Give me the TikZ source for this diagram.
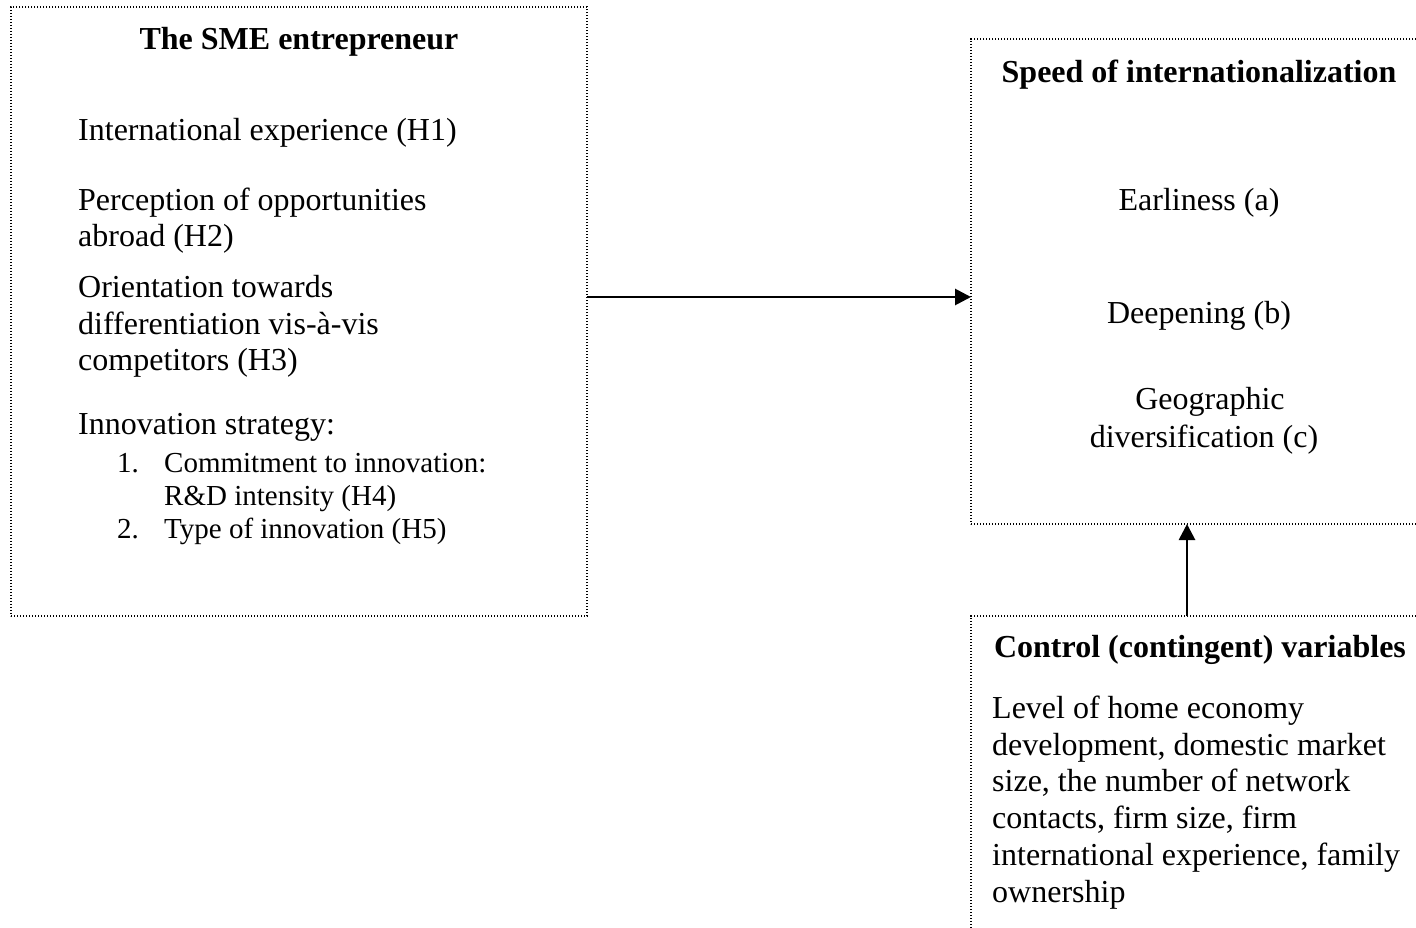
\documentclass[tikz,border=0pt]{standalone}
\usepackage{fontspec}
\setmainfont{Liberation Serif}
\usetikzlibrary{arrows.meta}
\begin{document}
\begin{tikzpicture}[x=1pt,y=-1pt,
  boxd/.style={draw=black, line width=1.3pt, dash pattern=on 1.3pt off 1.7pt, rectangle, inner sep=0pt, outer sep=0pt},
  txt/.style={font=\fontsize{32}{37}\selectfont, inner sep=0pt},
  ttl/.style={font=\fontsize{32}{37}\selectfont\bfseries, inner sep=0pt},
  sml/.style={font=\fontsize{29}{33}\selectfont, inner sep=0pt},
  arr/.style={line width=2.8pt, -{Triangle[length=16pt,width=16pt]}}]
\useasboundingbox (0,0) rectangle (1416,927);
\clip (0,0) rectangle (1416,927);
% boxes
\node[boxd, minimum width=576pt, minimum height=609pt] (left) at (299,311.5) {};
\node[boxd, minimum width=469pt, minimum height=485pt] (right) at (1205.5,281.5) {};
\node[boxd, minimum width=469pt, minimum height=344pt] (ctrl) at (1205.5,788) {};
% left texts
\node[ttl, anchor=base] (t1) at (299,49) {The SME entrepreneur};
\node[txt, anchor=base west] (l1) at (78,140) {International experience (H1)};
\node[txt, anchor=base west] (l2) at (78,210) {Perception of opportunities};
\node[txt, anchor=base west] (l3) at (78,246.5) {abroad (H2)};
\node[txt, anchor=base west] (l4) at (78,297) {Orientation towards};
\node[txt, anchor=base west] (l5) at (78,334) {differentiation vis-à-vis};
\node[txt, anchor=base west] (l6) at (78,370) {competitors (H3)};
\node[txt, anchor=base west] (l7) at (78,434) {Innovation strategy:};
\node[sml, anchor=base west] (n1) at (117,472) {1.};
\node[sml, anchor=base west] (l8) at (164,472) {Commitment to innovation:};
\node[sml, anchor=base west] (l9) at (164,505) {R\&D intensity (H4)};
\node[sml, anchor=base west] (n2) at (117,538) {2.};
\node[sml, anchor=base west] (l10) at (164,538) {Type of innovation (H5)};
% right texts
\node[ttl, anchor=base] (t2) at (1199,82) {Speed of internationalization};
\node[txt, anchor=base] (r1) at (1199,210) {Earliness (a)};
\node[txt, anchor=base] (r2) at (1199,323) {Deepening (b)};
\node[txt, anchor=base] (r3) at (1210,409) {Geographic};
\node[txt, anchor=base] (r4) at (1204,447) {diversification (c)};
% control texts
\node[ttl, anchor=base] (t3) at (1200,657) {Control (contingent) variables};
\node[txt, anchor=base west] (c1) at (992,718) {Level of home economy};
\node[txt, anchor=base west] (c2) at (992,755) {development, domestic market};
\node[txt, anchor=base west] (c3) at (992,791) {size, the number of network};
\node[txt, anchor=base west] (c4) at (992,828) {contacts, firm size, firm};
\node[txt, anchor=base west] (c5) at (992,865) {international experience, family};
\node[txt, anchor=base west] (c6) at (992,902) {ownership};
% connectors
\coordinate (hy) at (0,297);
\coordinate (vx) at (1187,0);
\draw[arr] (left.east |- hy) -- (right.west |- hy);
\draw[arr] (vx |- ctrl.north) -- (vx |- right.south);
\end{tikzpicture}
\end{document}
